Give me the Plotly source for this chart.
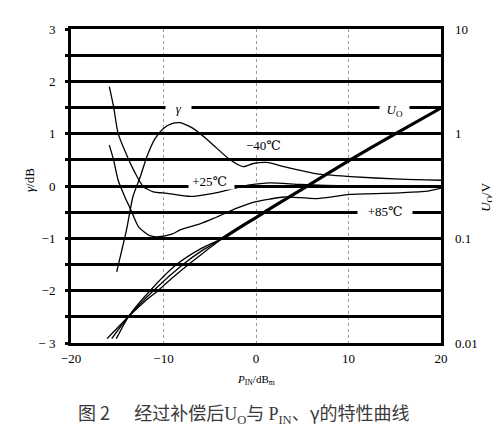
import plotly.graph_objects as go

# γ curves (dB) vs input power P_IN (dBm)
pin_m40 = [-15.06, -14, -13.3, -12.5, -11.8, -10.9, -10, -9.1, -8.2, -6.8, -5.5, -4.6, -2.8,
           -1.4, -0.3, 1.2, 3, 6.6, 10.2, 15.6, 20]
gam_m40 = [-1.64, -0.84, -0.2, 0.18, 0.56, 0.91, 1.1, 1.19, 1.21, 1.1, 0.92, 0.78, 0.5,
           0.37, 0.43, 0.45, 0.37, 0.23, 0.18, 0.13, 0.11]

pin_p25 = [-15.86, -15.4, -14.9, -13.9, -13.1, -12.2, -11.1, -9.65, -7.1, -4.6, -2.45, -0.65,
           1.5, 4.8, 10.2, 15.6, 20]
gam_p25 = [1.9, 1.52, 1.0, 0.56, 0.26, -0.01, -0.11, -0.14, -0.2, -0.14, -0.05, 0.02,
           0.06, 0.03, 0.0, -0.01, 0.0]

pin_p85 = [-15.86, -15.4, -14.9, -14.2, -13.6, -12.7, -11.5, -10.5, -9.1, -8.2, -6, -4.6,
           -2, 0, 1.5, 3, 6.6, 10.2, 15.6, 18.5, 20]
gam_p85 = [0.78, 0.5, 0.11, -0.2, -0.43, -0.78, -0.95, -0.97, -0.92, -0.84, -0.72, -0.62,
           -0.42, -0.3, -0.25, -0.21, -0.24, -0.16, -0.13, -0.1, -0.04]

# output voltage U_O (V), right log axis
pin_uo = [-3.6, -2, 0, 2, 5, 10, 15, 20]
uo_main = [0.1, 0.123, 0.158, 0.204, 0.295, 0.55, 0.989, 1.758]

pin_uo1 = [-16.1, -13.8, -12, -10.6, -9, -7.3, -5.5, -3.6]
uo_1 = [0.011, 0.0178, 0.0251, 0.0316, 0.0422, 0.0562, 0.075, 0.1]
pin_uo2 = [-15.6, -13.8, -11.1, -7.9, -5.8, -3.6]
uo_2 = [0.011, 0.0178, 0.0316, 0.0562, 0.0767, 0.1]
pin_uo3 = [-15.1, -13.8, -11.46, -8.6, -6, -3.6]
uo_3 = [0.011, 0.0178, 0.0316, 0.0562, 0.0794, 0.1]

x_ticks = [-20, -10, 0, 10, 20]
x_text = ["\u221220", "\u221210", "0", "10", "20"]
y_ticks = [-3, -2.5, -2, -1.5, -1, -0.5, 0, 0.5, 1, 1.5, 2, 2.5, 3]
y_text = ["\u2212 3", "", "\u22122", "", "\u22121", "", "0", "", "1", "", "2", "", "3"]
uo_ticks = [0.01, 0.1, 1, 10]
uo_text = ["0.01", "0.1", "1", "10"]

SERIF = "'Liberation Serif', 'Times New Roman', 'DejaVu Serif', serif"

fig = go.Figure()

for xs, ys in [(pin_m40, gam_m40), (pin_p25, gam_p25), (pin_p85, gam_p85)]:
    fig.add_trace(go.Scatter(x=xs, y=ys, mode="lines", line=dict(color="black", width=1.3, shape="spline", smoothing=0.6),
                             showlegend=False, hoverinfo="skip"))

for xs, ys in [(pin_uo1, uo_1), (pin_uo2, uo_2), (pin_uo3, uo_3)]:
    fig.add_trace(go.Scatter(x=xs, y=ys, yaxis="y2", mode="lines",
                             line=dict(color="black", width=1.3, shape="spline", smoothing=0.6),
                             showlegend=False, hoverinfo="skip"))
fig.add_trace(go.Scatter(x=pin_uo, y=uo_main, yaxis="y2", mode="lines",
                         line=dict(color="black", width=3.2, shape="spline", smoothing=0.4),
                         showlegend=False, hoverinfo="skip"))

# the page body adds 8px on the top and left, so the figure is 8px smaller
fig.update_layout(
    width=492, height=436,
    margin=dict(l=63, r=59, t=21, b=101),
    paper_bgcolor="white", plot_bgcolor="white",
    font=dict(family=SERIF, color="black", size=12),
    xaxis=dict(range=[-20, 20], tickvals=x_ticks, ticktext=x_text, showgrid=True,
               gridcolor="#9a9a9a", gridwidth=1, griddash="dot", zeroline=False,
               showline=True, linecolor="black", linewidth=3, mirror=True,
               ticks="", ticklabelstandoff=1, tickfont=dict(family=SERIF, size=13)),
    yaxis=dict(range=[-3, 3], tickvals=y_ticks, ticktext=y_text, showgrid=True,
               gridcolor="black", gridwidth=2.6, zeroline=False,
               showline=True, linecolor="black", linewidth=3, mirror=True,
               ticks="outside", ticklen=3, tickwidth=3, tickcolor="black",
               ticklabelstandoff=7, tickfont=dict(family=SERIF, size=13)),
    yaxis2=dict(type="log", range=[-2, 1], overlaying="y", side="right",
                tickvals=uo_ticks, ticktext=uo_text, showgrid=False, zeroline=False,
                ticks="", ticklabelstandoff=13, tickfont=dict(family=SERIF, size=13)),
)

NB = "\u00a0"
notes = [
    dict(x=-8.4, y=1.48, text=NB * 3 + "<i>\u03b3</i>" + NB * 3),
    dict(x=15.0, y=1.45, text=NB * 2 + "<i>U</i><sub>O</sub>" + NB * 2),
    dict(x=0.8, y=0.78, text="\u221240\u2103"),
    dict(x=-4.8, y=0.08, text=NB + "+25\u2103" + NB * 2),
    dict(x=13.9, y=-0.49, text=NB * 3 + "+85\u2103" + NB * 3),
]
for n in notes:
    fig.add_annotation(x=n["x"], y=n["y"], xref="x", yref="y", text=n["text"], showarrow=False,
                       xanchor="center", yanchor="middle",
                       bgcolor="white", borderpad=0, font=dict(family=SERIF, size=13))

# axis titles and caption
caption = ("图 2" + NB * 6 + "经过补偿后<span style='font-family:Liberation Serif'>U<sub>O</sub></span>与 "
           "<span style='font-family:Liberation Serif'>P<sub>IN</sub></span>、γ的特性曲线")
titles = [
    dict(x=-0.1135, y=0.519, text="<i>\u03b3</i>/dB", angle=-90, size=13, family=SERIF, color="black"),
    dict(x=1.124, y=0.465, text="<i>U</i><sub>O</sub>/V", angle=-90, size=13, family=SERIF, color="black"),
    dict(x=0.5, y=-0.118, text="<i>P</i><sub>IN</sub>/dB<sub>m</sub>", angle=0, size=11,
         family=SERIF, color="black"),
    dict(x=0.465, y=-0.223, text=caption, angle=0, size=18, family="Noto Sans CJK SC", color="#3a3a3a"),
]
for t in titles:
    fig.add_annotation(x=t["x"], y=t["y"], xref="paper", yref="paper", text=t["text"],
                       textangle=t["angle"], showarrow=False, xanchor="center", yanchor="middle",
                       font=dict(family=t["family"], size=t["size"], color=t["color"]))

fig.write_html("out.html")
